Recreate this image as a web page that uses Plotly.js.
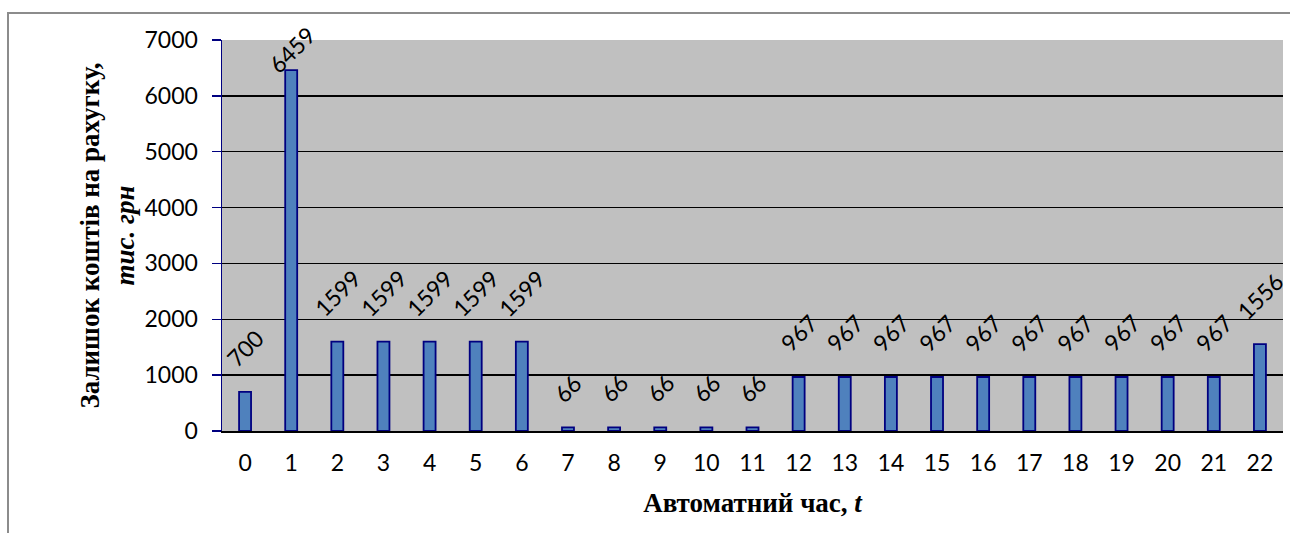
<!DOCTYPE html>
<html>
<head>
<meta charset="utf-8">
<script src="https://cdn.plot.ly/plotly-3.0.1.min.js"></script>
<style>
  html, body { margin: 0; padding: 0; background: #ffffff; }
  #wrap { position: relative; width: 1290px; height: 533px; overflow: hidden; }
  #chart { position: absolute; left: 0; top: 0; width: 1290px; height: 533px; }
  #frame { position: absolute; left: 7px; top: 12px; width: 1400px; height: 700px;
           border-left: 2px solid #8c8c8c; border-top: 2px solid #8c8c8c; pointer-events: none; }
</style>
</head>
<body>
<div id="wrap">
  <div id="chart"></div>
  <div id="frame"></div>
</div>
<script>
// ---- data ----
const hours = ["0","1","2","3","4","5","6","7","8","9","10","11","12","13","14","15","16","17","18","19","20","21","22"];
const balance = [700, 6459, 1599, 1599, 1599, 1599, 1599, 66, 66, 66, 66, 66, 967, 967, 967, 967, 967, 967, 967, 967, 967, 967, 1556];
const yTitleMain = "Залишок коштів на рахугку,";
const yTitleUnit = "тис. грн";
const xTitleMain = "Автоматний час, ";
const xTitleVar = "t";

// ---- layout constants ----
const W = 1290, H = 533;
const M = { l: 222, r: 7, t: 40, b: 102 };
const Y_MAX = 7000;
const plotH = H - M.t - M.b;
const LABEL_GAP = 17;
const LABEL_MIN_BOTTOM = 81;

const tickFont = { family: "Lato, 'Open Sans', sans-serif", size: 23, color: "#000000" };
const titleFont = { family: "'Liberation Serif', 'Times New Roman', serif", size: 27, color: "#000000" };

const annotations = hours.map((h, i) => {
  const v = balance[i];
  const topPx = M.t + plotH * (1 - v / Y_MAX);
  return {
    x: h, y: v, xref: "x", yref: "y",
    text: String(v),
    showarrow: false,
    textangle: -45,
    xanchor: "center", yanchor: "bottom",
    yshift: Math.min(LABEL_GAP, topPx - LABEL_MIN_BOTTOM),
    font: tickFont
  };
});

const trace = {
  type: "bar",
  x: hours,
  y: balance,
  width: 0.26,
  marker: { color: "#4F81BD", line: { color: "#000080", width: 1.8 } },
  hoverinfo: "x+y"
};

const layout = {
  width: W, height: H,
  margin: M,
  paper_bgcolor: "rgba(0,0,0,0)",
  plot_bgcolor: "#C0C0C0",
  showlegend: false,
  font: tickFont,
  xaxis: {
    type: "category",
    range: [-0.5, 22.5],
    showgrid: false,
    zeroline: false,
    showline: true, linecolor: "#000000", linewidth: 1.5,
    ticks: "",
    tickfont: tickFont,
    ticklabelstandoff: 11,
    title: { text: "<b>" + xTitleMain + "<i>" + xTitleVar + "</i></b>", font: titleFont, standoff: 18 },
    fixedrange: true
  },
  yaxis: {
    range: [0, Y_MAX],
    dtick: 1000,
    tick0: 0,
    showgrid: true, gridcolor: "#000000", gridwidth: 1.5,
    zeroline: false,
    showline: true, linecolor: "#000080", linewidth: 1.5,
    ticks: "outside", ticklen: 9, tickcolor: "#000080", tickwidth: 1.5,
    tickfont: tickFont,
    ticklabelstandoff: 9,
    title: { text: "<b>" + yTitleMain + "<br><i>" + yTitleUnit + "</i></b>", font: titleFont, standoff: 2 },
    fixedrange: true
  },
  annotations: annotations
};

Plotly.newPlot("chart", [trace], layout, { displayModeBar: false, staticPlot: true });
</script>
</body>
</html>
